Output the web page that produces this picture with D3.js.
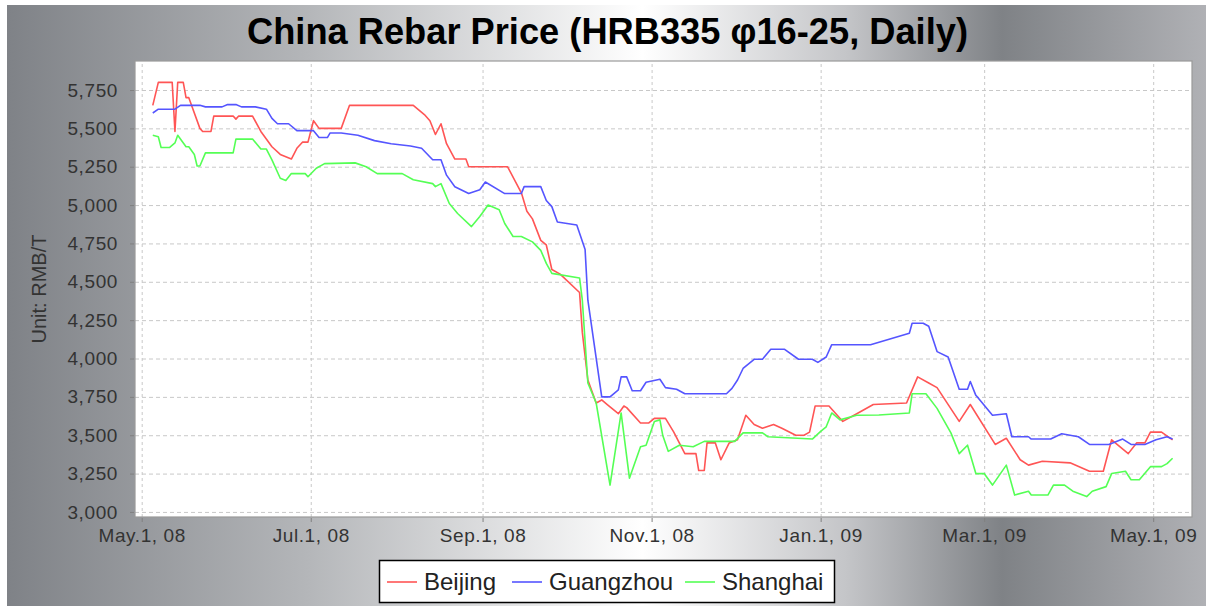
<!DOCTYPE html>
<html>
<head>
<meta charset="utf-8">
<script src="https://cdn.jsdelivr.net/npm/d3@7"></script>
<style>
  body { margin: 0; background: #fff; }
  svg { display: block; }
</style>
</head>
<body>
<svg id="chart"></svg>
<script>
// prices, RMB/T
const beijing = [
  ["2008-05-05", 5650], ["2008-05-07", 5800], ["2008-05-12", 5800], ["2008-05-13", 5480],
  ["2008-05-14", 5800], ["2008-05-16", 5800], ["2008-05-17", 5700], ["2008-05-18", 5700],
  ["2008-05-22", 5500], ["2008-05-23", 5480], ["2008-05-26", 5480], ["2008-05-27", 5580],
  ["2008-06-03", 5580], ["2008-06-04", 5560], ["2008-06-05", 5580], ["2008-06-10", 5580],
  ["2008-06-13", 5480], ["2008-06-17", 5380], ["2008-06-20", 5330], ["2008-06-24", 5300],
  ["2008-06-26", 5370], ["2008-06-28", 5410], ["2008-06-30", 5410], ["2008-07-02", 5550],
  ["2008-07-04", 5500], ["2008-07-12", 5500], ["2008-07-15", 5650], ["2008-08-07", 5650],
  ["2008-08-11", 5590], ["2008-08-13", 5550], ["2008-08-15", 5460], ["2008-08-17", 5530],
  ["2008-08-19", 5400], ["2008-08-22", 5300], ["2008-08-26", 5300], ["2008-08-27", 5250],
  ["2008-09-10", 5250], ["2008-09-15", 5080], ["2008-09-17", 4960], ["2008-09-19", 4910],
  ["2008-09-22", 4770], ["2008-09-24", 4740], ["2008-09-26", 4580], ["2008-09-29", 4550],
  ["2008-10-06", 4430], ["2008-10-07", 4170], ["2008-10-09", 3860], ["2008-10-12", 3710],
  ["2008-10-14", 3730], ["2008-10-16", 3700], ["2008-10-20", 3640], ["2008-10-22", 3690],
  ["2008-10-23", 3680], ["2008-10-28", 3580], ["2008-10-31", 3580], ["2008-11-02", 3610],
  ["2008-11-06", 3610], ["2008-11-09", 3520], ["2008-11-11", 3450], ["2008-11-13", 3380],
  ["2008-11-17", 3380], ["2008-11-18", 3270], ["2008-11-20", 3270], ["2008-11-21", 3450],
  ["2008-11-24", 3450], ["2008-11-26", 3340], ["2008-11-29", 3450], ["2008-12-02", 3470],
  ["2008-12-05", 3630], ["2008-12-08", 3570], ["2008-12-11", 3545], ["2008-12-15", 3570],
  ["2008-12-18", 3545], ["2008-12-23", 3500], ["2008-12-26", 3500], ["2008-12-28", 3520],
  ["2008-12-30", 3690], ["2009-01-04", 3690], ["2009-01-09", 3590], ["2009-01-15", 3650],
  ["2009-01-20", 3700], ["2009-02-01", 3710], ["2009-02-05", 3880], ["2009-02-09", 3840],
  ["2009-02-12", 3810], ["2009-02-20", 3590], ["2009-02-24", 3700], ["2009-03-05", 3440],
  ["2009-03-09", 3480], ["2009-03-14", 3340], ["2009-03-17", 3305], ["2009-03-22", 3330],
  ["2009-04-01", 3320], ["2009-04-08", 3265], ["2009-04-13", 3265], ["2009-04-16", 3470],
  ["2009-04-22", 3380], ["2009-04-25", 3450], ["2009-04-28", 3450], ["2009-04-30", 3520],
  ["2009-05-04", 3520], ["2009-05-08", 3470]
];

const guangzhou = [
  ["2008-05-05", 5600], ["2008-05-07", 5625], ["2008-05-13", 5625], ["2008-05-15", 5650],
  ["2008-05-22", 5650], ["2008-05-24", 5640], ["2008-05-30", 5640], ["2008-06-01", 5655],
  ["2008-06-04", 5655], ["2008-06-06", 5640], ["2008-06-11", 5640], ["2008-06-15", 5625],
  ["2008-06-17", 5565], ["2008-06-19", 5530], ["2008-06-23", 5530], ["2008-06-26", 5485],
  ["2008-07-02", 5485], ["2008-07-04", 5440], ["2008-07-07", 5440], ["2008-07-08", 5470],
  ["2008-07-12", 5470], ["2008-07-18", 5455], ["2008-07-24", 5420], ["2008-07-30", 5400],
  ["2008-08-06", 5385], ["2008-08-10", 5370], ["2008-08-14", 5295], ["2008-08-17", 5295],
  ["2008-08-19", 5195], ["2008-08-22", 5120], ["2008-08-27", 5075], ["2008-08-31", 5100],
  ["2008-09-02", 5150], ["2008-09-09", 5075], ["2008-09-15", 5075], ["2008-09-16", 5120],
  ["2008-09-22", 5120], ["2008-09-24", 5030], ["2008-09-26", 4990], ["2008-09-28", 4890],
  ["2008-10-05", 4870], ["2008-10-08", 4710], ["2008-10-09", 4380], ["2008-10-14", 3750],
  ["2008-10-17", 3750], ["2008-10-20", 3795], ["2008-10-21", 3880], ["2008-10-23", 3880],
  ["2008-10-25", 3790], ["2008-10-28", 3790], ["2008-10-30", 3845], ["2008-11-04", 3865],
  ["2008-11-06", 3810], ["2008-11-10", 3800], ["2008-11-13", 3770], ["2008-11-28", 3770],
  ["2008-11-30", 3805], ["2008-12-02", 3860], ["2008-12-04", 3935], ["2008-12-08", 3995],
  ["2008-12-11", 3995], ["2008-12-14", 4060], ["2008-12-19", 4060], ["2008-12-24", 3995],
  ["2008-12-29", 3995], ["2008-12-31", 3975], ["2009-01-03", 4010], ["2009-01-05", 4090],
  ["2009-01-19", 4090], ["2009-02-02", 4165], ["2009-02-03", 4230], ["2009-02-07", 4230],
  ["2009-02-09", 4210], ["2009-02-12", 4045], ["2009-02-16", 4010], ["2009-02-20", 3800],
  ["2009-02-23", 3800], ["2009-02-24", 3850], ["2009-02-26", 3760], ["2009-02-27", 3740],
  ["2009-03-04", 3630], ["2009-03-09", 3640], ["2009-03-11", 3490], ["2009-03-17", 3490],
  ["2009-03-18", 3475], ["2009-03-25", 3475], ["2009-03-29", 3510], ["2009-04-04", 3490],
  ["2009-04-08", 3440], ["2009-04-15", 3440], ["2009-04-20", 3475], ["2009-04-23", 3440],
  ["2009-04-28", 3440], ["2009-05-02", 3470], ["2009-05-06", 3490], ["2009-05-08", 3475]
];

const shanghai = [
  ["2008-05-05", 5455], ["2008-05-07", 5445], ["2008-05-08", 5375], ["2008-05-11", 5375],
  ["2008-05-13", 5405], ["2008-05-14", 5455], ["2008-05-17", 5380], ["2008-05-18", 5380],
  ["2008-05-20", 5330], ["2008-05-21", 5255], ["2008-05-22", 5255], ["2008-05-24", 5340],
  ["2008-06-03", 5340], ["2008-06-04", 5430], ["2008-06-10", 5430], ["2008-06-13", 5365],
  ["2008-06-15", 5365], ["2008-06-17", 5295], ["2008-06-20", 5175], ["2008-06-22", 5160],
  ["2008-06-24", 5205], ["2008-06-29", 5205], ["2008-06-30", 5185], ["2008-07-03", 5240],
  ["2008-07-06", 5270], ["2008-07-17", 5275], ["2008-07-21", 5250], ["2008-07-25", 5205],
  ["2008-08-03", 5205], ["2008-08-07", 5165], ["2008-08-14", 5140], ["2008-08-15", 5120],
  ["2008-08-17", 5140], ["2008-08-20", 5010], ["2008-08-23", 4945], ["2008-08-28", 4860],
  ["2008-08-31", 4925], ["2008-09-03", 5000], ["2008-09-07", 4970], ["2008-09-09", 4880],
  ["2008-09-12", 4795], ["2008-09-15", 4795], ["2008-09-19", 4760], ["2008-09-22", 4705],
  ["2008-09-24", 4620], ["2008-09-26", 4555], ["2008-10-06", 4525], ["2008-10-07", 4380],
  ["2008-10-09", 3840], ["2008-10-12", 3710], ["2008-10-17", 3175], ["2008-10-21", 3645],
  ["2008-10-24", 3220], ["2008-10-28", 3425], ["2008-10-30", 3435], ["2008-11-02", 3590],
  ["2008-11-04", 3600], ["2008-11-05", 3500], ["2008-11-07", 3395], ["2008-11-11", 3435],
  ["2008-11-16", 3425], ["2008-11-20", 3460], ["2008-12-01", 3460], ["2008-12-04", 3515],
  ["2008-12-11", 3515], ["2008-12-13", 3490], ["2008-12-29", 3475], ["2009-01-01", 3525],
  ["2009-01-03", 3555], ["2009-01-05", 3645], ["2009-01-08", 3600], ["2009-01-14", 3630],
  ["2009-01-22", 3632], ["2009-02-02", 3645], ["2009-02-03", 3770], ["2009-02-08", 3770],
  ["2009-02-12", 3675], ["2009-02-17", 3515], ["2009-02-20", 3380], ["2009-02-23", 3435],
  ["2009-02-26", 3250], ["2009-03-01", 3250], ["2009-03-04", 3175], ["2009-03-09", 3305],
  ["2009-03-12", 3110], ["2009-03-17", 3135], ["2009-03-18", 3110], ["2009-03-24", 3110],
  ["2009-03-26", 3175], ["2009-03-30", 3175], ["2009-04-02", 3135], ["2009-04-07", 3100],
  ["2009-04-09", 3135], ["2009-04-14", 3165], ["2009-04-16", 3250], ["2009-04-21", 3265],
  ["2009-04-23", 3210], ["2009-04-26", 3210], ["2009-04-30", 3295], ["2009-05-04", 3295],
  ["2009-05-06", 3315], ["2009-05-08", 3350]
];

const seriesNames = ["Beijing", "Guangzhou", "Shanghai"];
const seriesColors = ["#ff5555", "#5555ff", "#55ff55"];
const yTicks = [3000, 3250, 3500, 3750, 4000, 4250, 4500, 4750, 5000, 5250, 5500, 5750];
const chartTitle = "China Rebar Price (HRB335 \u03c616-25, Daily)";
const yLabel = "Unit: RMB/T";

const width = 1206, height = 610;
const margin = { top: 61, right: 14, bottom: 93, left: 135 };
const plotW = width - margin.left - margin.right;
const plotH = height - margin.top - margin.bottom;

const parse = d3.timeParse("%Y-%m-%d");
const series = [beijing, guangzhou, shanghai].map(function (s, i) {
  return {
    name: seriesNames[i],
    color: seriesColors[i],
    values: s.map(d => ({ date: parse(d[0]), value: d[1] }))
  };
});

const svg = d3.select("#chart").attr("width", width).attr("height", height);

// background gradient
const defs = svg.append("defs");
const grad = defs.append("linearGradient")
  .attr("id", "bg")
  .attr("x1", "0").attr("x2", "1").attr("y1", "0").attr("y2", "0");
[[0, "#7f8287"], [0.25, "#b4b6b9"], [0.53, "#ffffff"], [0.7, "#c4c5c8"],
 [0.83, "#7f8286"], [1, "#b0b1b5"]].forEach(function (s) {
  grad.append("stop").attr("offset", s[0]).attr("stop-color", s[1]);
});

svg.append("rect")
  .attr("x", 7).attr("y", 5)
  .attr("width", width - 7).attr("height", height - 9)
  .attr("fill", "url(#bg)");

// title
svg.append("text")
  .attr("x", 607.5)
  .attr("y", 44)
  .attr("text-anchor", "middle")
  .attr("font-family", "Liberation Sans, Arial, sans-serif")
  .attr("font-weight", "bold")
  .attr("font-size", "36px")
  .attr("textLength", 721)
  .attr("lengthAdjust", "spacingAndGlyphs")
  .attr("fill", "#000")
  .text(chartTitle);

const x = d3.scaleTime()
  .domain([new Date(2008, 3, 28, 14), new Date(2009, 4, 15)])
  .range([margin.left, margin.left + plotW]);

const y = d3.scaleLinear()
  .domain([2967, 5939])
  .range([margin.top + plotH, margin.top]);

// plot area
svg.append("rect")
  .attr("x", margin.left).attr("y", margin.top)
  .attr("width", plotW).attr("height", plotH)
  .attr("fill", "#fff");

// gridlines
svg.append("g")
  .attr("transform", `translate(0, ${margin.top + plotH})`)
  .call(d3.axisBottom(x).ticks(d3.timeMonth.every(2)).tickSize(-plotH).tickFormat(""))
  .call(g => g.select(".domain").remove())
  .selectAll("line")
  .attr("stroke", "#c8c8c8")
  .attr("stroke-dasharray", "3,3");

svg.append("g")
  .attr("transform", `translate(${margin.left}, 0)`)
  .call(d3.axisLeft(y).tickValues(yTicks).tickSize(-plotW).tickFormat(""))
  .call(g => g.select(".domain").remove())
  .selectAll("line")
  .attr("stroke", "#c8c8c8")
  .attr("stroke-dasharray", "4,3");

// lines
const line = d3.line()
  .x(d => x(d.date))
  .y(d => y(d.value));

svg.append("g")
  .selectAll("path")
  .data(series)
  .enter()
  .append("path")
  .attr("d", d => line(d.values))
  .attr("fill", "none")
  .attr("stroke", d => d.color)
  .attr("stroke-width", 1.6)
  .attr("stroke-linejoin", "round");

// plot outline
svg.append("rect")
  .attr("x", margin.left).attr("y", margin.top)
  .attr("width", plotW).attr("height", plotH)
  .attr("fill", "none")
  .attr("stroke", "#9a9a9a")
  .attr("stroke-width", 1.2);

// axes
const xAxis = svg.append("g")
  .attr("transform", `translate(0, ${margin.top + plotH + 1})`)
  .call(d3.axisBottom(x)
    .ticks(d3.timeMonth.every(2))
    .tickSize(4)
    .tickPadding(7)
    .tickFormat(d3.timeFormat("%b.%-d, %y")));
xAxis.select(".domain").remove();
xAxis.selectAll("line").attr("stroke", "#808080");
xAxis.selectAll("text")
  .attr("font-family", "Liberation Sans, Arial, sans-serif")
  .attr("font-size", "19px")
  .attr("letter-spacing", "0.6px")
  .attr("fill", "#333");

const yAxis = svg.append("g")
  .attr("transform", `translate(${margin.left - 1}, 0)`)
  .call(d3.axisLeft(y)
    .tickValues(yTicks)
    .tickSize(4)
    .tickPadding(12)
    .tickFormat(d3.format(",")));
yAxis.select(".domain").remove();
yAxis.selectAll("line").attr("stroke", "#808080");
yAxis.selectAll("text")
  .attr("font-family", "Liberation Sans, Arial, sans-serif")
  .attr("font-size", "19px")
  .attr("letter-spacing", "0.6px")
  .attr("fill", "#333");

svg.append("text")
  .attr("transform", `translate(46, ${margin.top + plotH / 2}) rotate(-90)`)
  .attr("text-anchor", "middle")
  .attr("font-family", "Liberation Sans, Arial, sans-serif")
  .attr("font-size", "20px")
  .attr("fill", "#333")
  .text(yLabel);

// legend
const legend = svg.append("g");
legend.append("rect")
  .attr("x", 379.5).attr("y", 560.5)
  .attr("width", 455).attr("height", 42)
  .attr("fill", "#fff")
  .attr("stroke", "#000")
  .attr("stroke-width", 1.5);

const legendX = [387, 512, 685];
const items = legend.selectAll(".item")
  .data(series)
  .enter()
  .append("g")
  .attr("class", "item")
  .attr("transform", (d, i) => `translate(${legendX[i]}, 582)`);
items.append("line")
  .attr("x1", 0).attr("x2", 30)
  .attr("stroke", d => d.color)
  .attr("stroke-width", 1.6);
items.append("text")
  .attr("x", 37)
  .attr("dy", "0.35em")
  .attr("font-family", "Liberation Sans, Arial, sans-serif")
  .attr("font-size", "24px")
  .attr("fill", "#222")
  .text(d => d.name);
</script>
</body>
</html>
